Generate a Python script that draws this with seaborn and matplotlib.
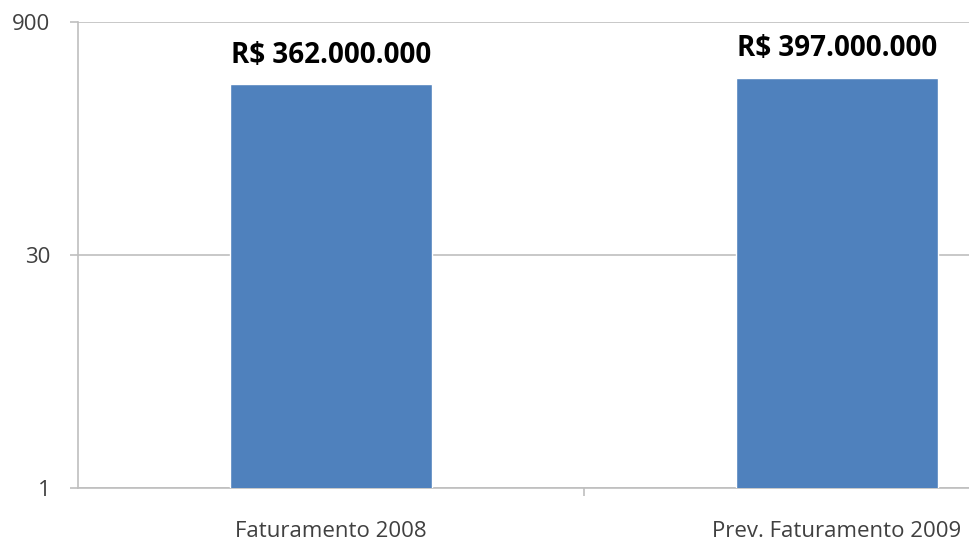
import matplotlib
matplotlib.use("Agg")
import matplotlib.pyplot as plt  # type: ignore
import seaborn as sns  # type: ignore
import pandas as pd  # type: ignore
from matplotlib.ticker import FixedLocator, NullFormatter  # type: ignore

# data (millions of R$)
categories = ["Faturamento 2008", "Prev. Faturamento 2009"]
values = [362, 397]
labels = ["R$ 362.000.000", "R$ 397.000.000"]
yticks = [1, 30, 900]

sns.set_style("white")
plt.rcParams['font.family'] = ['Open Sans', 'DejaVu Sans']

df = pd.DataFrame({"cat": categories, "val": values})

fig = plt.figure(figsize=(9.7, 5.45), dpi=100)
ax = fig.add_axes([78 / 970, 1 - 488 / 545, 1 - 78 / 970, (488 - 22) / 545])

sns.barplot(data=df, x="cat", y="val", color="#4F81BD", width=0.4,
            saturation=1, ax=ax, zorder=3)
ax.set_yscale("log")
ax.set_ylim(1, 900)
ax.set_xlim(-0.5, 1.263)

ax.yaxis.set_major_locator(FixedLocator(yticks))
ax.yaxis.set_minor_locator(FixedLocator([]))
ax.set_yticklabels([str(t) for t in yticks])
ax.grid(axis="y", color="#BFBFBF", linewidth=1.2, zorder=0)

ax.set_xlabel("")
ax.set_ylabel("")
ax.xaxis.set_minor_locator(FixedLocator([0.5]))
ax.xaxis.set_minor_formatter(NullFormatter())
ax.tick_params(axis="x", which="major", bottom=True, length=0, pad=24, labelsize=16, labelcolor="#404040")
ax.tick_params(axis="x", which="minor", bottom=True, length=6, width=1.2, color="#BFBFBF", direction="out")
ax.tick_params(axis="y", which="major", left=True, length=6, width=1.2, color="#BFBFBF", direction="out",
               labelsize=16, labelcolor="#404040", pad=14)

for s in ["top", "right"]:
    ax.spines[s].set_visible(False)
for s in ["left", "bottom"]:
    ax.spines[s].set_color("#BFBFBF")
    ax.spines[s].set_linewidth(1.2)

for i, (v, lab) in enumerate(zip(values, labels)):
    ax.annotate(lab, xy=(i, v), xytext=(0, 21), textcoords="offset points",
                ha="center", va="center", fontsize=20, fontweight="bold", color="black")

fig.savefig("out.png", dpi=100)
